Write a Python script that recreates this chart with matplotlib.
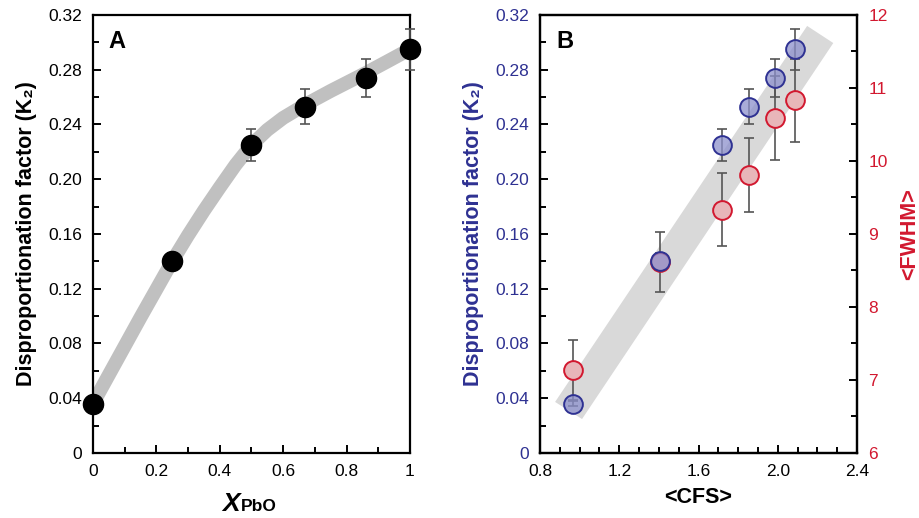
import numpy as np
import matplotlib
matplotlib.use("Agg")
import matplotlib.pyplot as plt
from matplotlib.ticker import MultipleLocator
from matplotlib.patches import Polygon

plt.rcParams['font.family'] = ['Liberation Sans', 'DejaVu Sans']

# data
x_pbo = [0, 0.25, 0.5, 0.67, 0.86, 1.0]
k2 = [0.036, 0.140, 0.225, 0.253, 0.274, 0.295]
k2_err = [0.002, 0.006, 0.012, 0.013, 0.014, 0.015]

# gray guide curve in panel A
curve_x = [0, 0.05, 0.1, 0.15, 0.2, 0.25, 0.3, 0.35, 0.4, 0.45, 0.5, 0.55, 0.6, 0.67, 0.75, 0.86, 0.93, 1.0]
curve_y = [0.036, 0.057, 0.078, 0.099, 0.1195, 0.140, 0.159, 0.177, 0.194, 0.2105, 0.225,
           0.236, 0.2448, 0.2545, 0.2645, 0.2775, 0.2862, 0.295]

cfs = [0.967, 1.406, 1.72, 1.856, 1.987, 2.088]
fwhm = [7.14, 8.62, 9.33, 9.81, 10.585, 10.83]
fwhm_err = [0.41, 0.41, 0.5, 0.51, 0.575, 0.57]

# gray band corners in panel B (CFS, K2)
band_cfs = [0.876, 1.012, 2.280, 2.148]
band_k2 = [0.0373, 0.0248, 0.2995, 0.312]

navy = '#2e3192'
red = '#d2182f'
errc = '#555555'

fig = plt.figure(figsize=(9.2, 5.18), dpi=100)
axA = fig.add_axes([0.101, 0.1255, 0.3446, 0.8456])
axB = fig.add_axes([0.587, 0.1255, 0.3446, 0.8456])


def style(ax):
    for s in ax.spines.values():
        s.set_linewidth(1.6)
    ax.tick_params(which='both', direction='in', width=1.4, labelsize=12.5, pad=8)
    ax.tick_params(which='major', length=6)
    ax.tick_params(which='minor', length=4)


yt = [0, 0.04, 0.08, 0.12, 0.16, 0.20, 0.24, 0.28, 0.32]
ytl = ['0'] + ['%.2f' % v for v in yt[1:]]

# ---- panel A
style(axA)
axA.plot(curve_x, curve_y, color='#c0c0c0', lw=10, solid_capstyle='butt',
         solid_joinstyle='round', zorder=1)
axA.errorbar(x_pbo, k2, yerr=k2_err, fmt='o', color='black', ms=14.5, ecolor=errc,
             elinewidth=1.2, capsize=3.6, capthick=1.2, zorder=3, clip_on=False)
axA.set_xlim(0, 1)
axA.set_ylim(0, 0.32)
axA.set_xticks([0, 0.2, 0.4, 0.6, 0.8, 1.0], ['0', '0.2', '0.4', '0.6', '0.8', '1'])
axA.xaxis.set_minor_locator(MultipleLocator(0.1))
axA.set_yticks(yt, ytl)
axA.yaxis.set_minor_locator(MultipleLocator(0.02))
axA.set_ylabel('Disproportionation factor (K₂)', fontsize=15.5, fontweight='bold', labelpad=8)
axA.text(0.05, 0.965, 'A', transform=axA.transAxes, fontsize=17, fontweight='bold', va='top')
fig.text(0.242, 0.0135, 'X', fontsize=19, fontweight='bold', style='italic', ha='left', va='baseline')
fig.text(0.262, 0.0135, 'PbO', fontsize=12.5, fontweight='bold', ha='left', va='baseline')

# ---- panel B
style(axB)
axR = axB.twinx()
style(axR)
axR.set_ylim(6, 12)
axR.yaxis.set_major_locator(MultipleLocator(1))
axR.yaxis.set_minor_locator(MultipleLocator(0.5))
axR.tick_params(axis='y', which='both', labelcolor=red)
axR.set_ylabel('<FWHM>', fontsize=15.5, fontweight='bold', color=red, labelpad=8)

axB.add_patch(Polygon(list(zip(band_cfs, band_k2)), closed=True, facecolor='#d9d9d9',
                      edgecolor='none', zorder=0))
axB.set_xlim(0.8, 2.4)
axB.set_ylim(0, 0.32)
axB.set_xticks([0.8, 1.2, 1.6, 2.0, 2.4], ['0.8', '1.2', '1.6', '2.0', '2.4'])
axB.xaxis.set_minor_locator(MultipleLocator(0.1))
axB.set_yticks(yt, ytl)
axB.yaxis.set_minor_locator(MultipleLocator(0.02))
axB.tick_params(axis='y', which='both', labelcolor=navy)
axB.set_ylabel('Disproportionation factor (K₂)', fontsize=15.5, fontweight='bold', color=navy, labelpad=8)
axB.set_xlabel('<CFS>', fontsize=15.5, fontweight='bold', labelpad=6)
axB.text(0.05, 0.965, 'B', transform=axB.transAxes, fontsize=17, fontweight='bold', va='top')

# FWHM series drawn in the right-axis data coordinates, but inside axB so the band stays underneath
axB.errorbar(cfs, fwhm, yerr=fwhm_err, fmt='none', ecolor=errc, elinewidth=1.2,
             capsize=3.6, capthick=1.2, zorder=2, transform=axR.transData)
axB.plot(cfs, fwhm, 'o', ms=13.5, mfc='#e8b6b9', mec=red, mew=1.4, zorder=3,
         transform=axR.transData, clip_on=False)
axB.errorbar(cfs, k2, yerr=k2_err, fmt='none', ecolor=errc, elinewidth=1.2,
             capsize=3.6, capthick=1.2, zorder=2)
axB.plot(cfs, k2, 'o', ms=13.5, mfc=(0.55, 0.565, 0.80, 0.75), mec=navy, mew=1.4,
         zorder=4, clip_on=False)
axB.set_ylim(0, 0.32)

fig.savefig('out.png', dpi=100)
